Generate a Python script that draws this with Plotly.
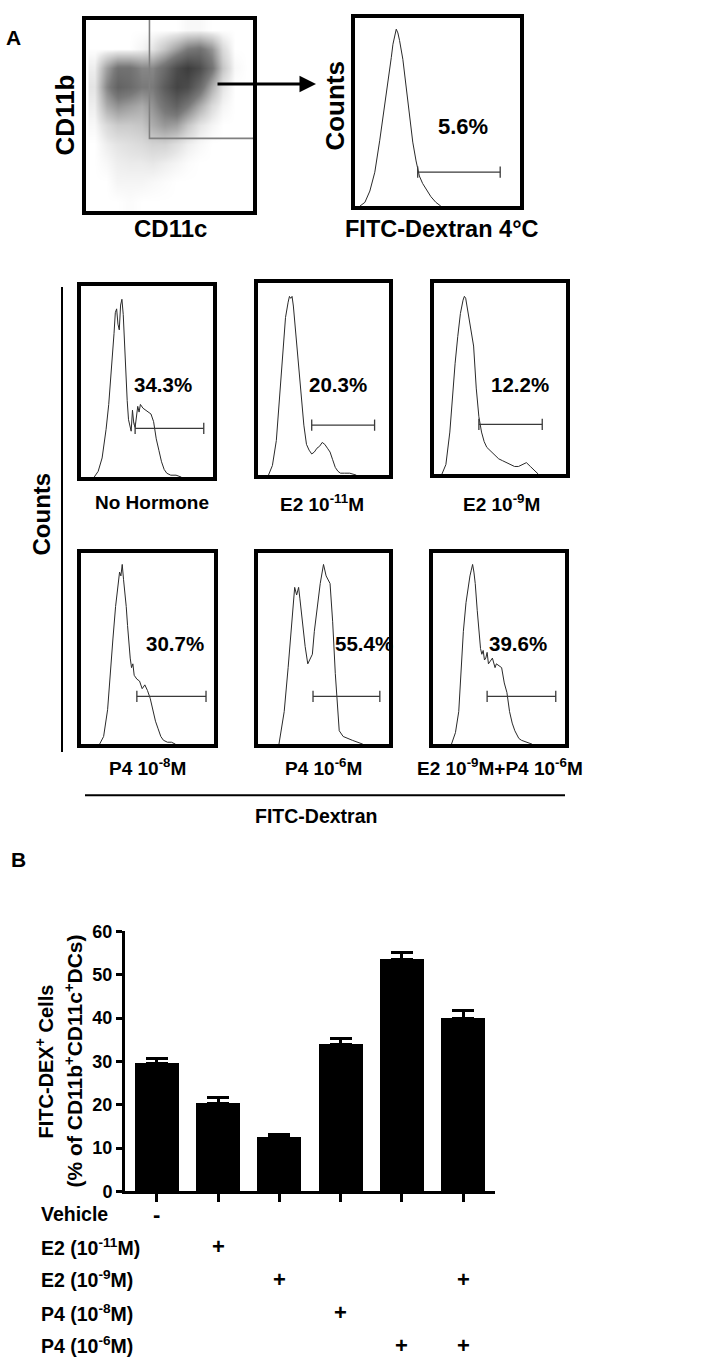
import plotly.graph_objects as go

W, H = 714, 1370

# ---------------- data ----------------
# dot-plot density (CD11c vs CD11b), grid centres in % of the box
scatter_x = [5, 12, 19, 26, 33, 40, 47, 54, 61, 68, 75, 82, 89, 96]
scatter_y = [5, 15, 25, 35, 45, 55, 65, 75, 85, 95]
scatter_density = [
    [0, 0, 0, 0.01, 0, 0, 0, 0, 0, 0, 0, 0, 0, 0],
    [0, 0, 0.03, 0.03, 0.03, 0.02, 0.01, 0, 0, 0, 0, 0, 0, 0],
    [0, 0.02, 0.05, 0.06, 0.06, 0.07, 0.05, 0.03, 0.01, 0, 0, 0, 0, 0],
    [0, 0.05, 0.08, 0.10, 0.12, 0.15, 0.15, 0.10, 0.05, 0.02, 0, 0, 0, 0],
    [0.02, 0.12, 0.18, 0.18, 0.20, 0.30, 0.38, 0.35, 0.20, 0.08, 0.03, 0, 0, 0],
    [0.05, 0.30, 0.40, 0.35, 0.30, 0.40, 0.55, 0.65, 0.50, 0.30, 0.12, 0.03, 0, 0],
    [0.08, 0.45, 0.65, 0.60, 0.50, 0.50, 0.70, 0.85, 0.80, 0.60, 0.30, 0.08, 0, 0],
    [0.05, 0.35, 0.55, 0.55, 0.45, 0.45, 0.60, 0.80, 0.90, 0.80, 0.55, 0.20, 0.02, 0],
    [0, 0, 0, 0, 0.03, 0.08, 0.20, 0.35, 0.50, 0.55, 0.40, 0.12, 0, 0],
    [0, 0, 0, 0, 0, 0, 0, 0, 0.02, 0.02, 0, 0, 0, 0],
]
scatter_gate_x = [38, 38, 100]
scatter_gate_y = [100, 38, 38]

# histograms (x: % of box width, y: % of box height)
hist_4c_x = [3, 6, 9, 12, 15, 18, 20, 22, 23, 24, 25, 26, 27, 29, 31, 33, 35, 37, 39, 41, 43, 46, 49, 52]
hist_4c_y = [0, 2, 8, 18, 35, 53, 66, 79, 86, 91, 94, 92, 88, 78, 64, 48, 34, 24, 16, 12, 9, 5, 2, 0]

hist_none_x = [10, 13, 16, 19, 21, 23, 25, 26, 27, 28, 29, 30, 31, 32, 33, 34, 35, 36, 37, 38, 39, 40,
               41, 42, 43, 44, 45, 47, 49, 51, 53, 55, 57, 59, 61, 63, 65, 68, 72, 76]
hist_none_y = [0, 3, 10, 25, 38, 55, 75, 86, 88, 80, 77, 90, 93, 85, 68, 52, 40, 30, 27, 24, 35, 28,
               26, 33, 37, 34, 38, 36, 35, 34, 33, 29, 20, 14, 8, 4, 2, 1, 1, 0]

hist_e2lo_x = [8, 11, 14, 17, 19, 21, 23, 24, 25, 26, 27, 29, 31, 33, 35, 37, 39, 41, 43, 45, 47, 49,
               51, 53, 55, 57, 59, 61, 63, 66, 70, 75]
hist_e2lo_y = [0, 5, 18, 45, 67, 82, 90, 93, 92, 93, 88, 72, 55, 40, 26, 16, 13, 11, 12, 14, 15, 17,
               16, 14, 12, 8, 4, 2, 1, 1, 1, 0]

hist_e2hi_x = [6, 9, 12, 14, 16, 18, 20, 22, 23, 24, 25, 26, 28, 30, 32, 34, 36, 38, 40, 43, 46, 49,
               52, 55, 58, 61, 64, 67, 70, 73, 76, 79]
hist_e2hi_y = [0, 5, 22, 42, 58, 72, 84, 91, 93, 92, 88, 84, 76, 67, 45, 30, 22, 17, 14, 12, 10, 8,
               7, 6, 5, 4, 4, 5, 6, 4, 2, 0]

hist_p4lo_x = [14, 17, 20, 22, 24, 26, 28, 29, 30, 31, 32, 33, 34, 35, 36, 37, 38, 39, 40, 42, 44, 46,
               48, 50, 52, 54, 56, 58, 60, 62, 65, 68, 71]
hist_p4lo_y = [0, 4, 18, 38, 55, 72, 85, 90, 88, 94, 86, 80, 72, 62, 52, 45, 40, 42, 36, 34, 33, 29,
               31, 28, 24, 18, 12, 8, 4, 2, 1, 1, 0]

hist_p4hi_x = [16, 20, 23, 26, 28, 29.5, 31, 32, 34, 36, 38, 40, 41.5, 43, 45, 47.5, 50, 52, 55, 57,
               59, 61, 62, 65, 68, 72, 80]
hist_p4hi_y = [0, 17, 40, 64, 82, 78, 82, 76, 62, 51, 42, 45, 47, 59, 70, 84, 94, 88, 84, 64,
               37, 15, 7, 4, 3, 2, 0]

hist_comb_x = [14, 17, 19.5, 21, 23, 25, 27, 28, 29, 30, 31, 32, 33.5, 35, 36, 37, 38, 39, 40, 41, 42,
               43, 45, 47, 48, 50, 52, 54, 56, 58, 60, 62, 65, 67, 71, 75]
hist_comb_y = [0, 6, 17, 35, 59, 74, 84, 88, 91, 94, 90, 84, 70, 59, 50, 47, 49, 44, 45, 48, 42,
               43, 45, 40, 42, 41, 40, 32, 27, 17, 11, 7, 3, 2, 1, 0]

# marker gates: [x start, x end, y]
gate_4c = [38, 88, 18]
gate_none = [41, 93, 25.5]
gate_e2lo = [41, 89, 26]
gate_e2hi = [34, 82, 26]
gate_p4lo = [42, 94, 25]
gate_p4hi = [42, 93, 25]
gate_comb = [41, 93, 25]

pct_labels = ["5.6%", "34.3%", "20.3%", "12.2%", "30.7%", "55.4%", "39.6%"]

# panel B bar chart
bar_groups = [0, 1, 2, 3, 4, 5]
bar_values = [29.6, 20.3, 12.5, 34.0, 53.6, 39.9]
bar_errors = [1.1, 1.3, 0.6, 1.3, 1.6, 1.9]
y_ticks = [0, 10, 20, 30, 40, 50, 60]

treat_labels = ["Vehicle", "E2 (10<sup>-11</sup>M)", "E2 (10<sup>-9</sup>M)",
                "P4 (10<sup>-8</sup>M)", "P4 (10<sup>-6</sup>M)"]
treat_marks = [
    ["-", "", "", "", "", ""],
    ["", "+", "", "", "", ""],
    ["", "", "+", "", "", "+"],
    ["", "", "", "+", "", ""],
    ["", "", "", "", "+", "+"],
]

# ---------------- layout helpers ----------------
SANS = "Liberation Sans, Arial, sans-serif"


def px(xp):
    return xp / W


def py(yp):
    return 1 - yp / H


fig = go.Figure()

# box panels: (axis index, x-range px, y-range px)
panels = [
    (1, (86, 253), (10, 204)),    # dot plot
    (2, (355, 520), (8, 199)),    # 4 C
    (3, (81, 213), (280, 474)),
    (4, (258, 389), (277, 472)),
    (5, (434, 566), (277, 471)),
    (6, (81, 214), (551, 745)),
    (7, (258, 389), (551, 745)),
    (8, (433, 565), (551, 745)),
]
layout_axes = {}
for i, xr, yr in panels:
    sx = "" if i == 1 else str(i)
    layout_axes["xaxis" + sx] = dict(
        domain=[px(xr[0]), px(xr[1])], anchor="y" + sx, range=[0, 100],
        showline=True, mirror=True, linewidth=4, linecolor="black",
        showticklabels=False, ticks="", showgrid=False, zeroline=False)
    layout_axes["yaxis" + sx] = dict(
        domain=[py(yr[1]), py(yr[0])], anchor="x" + sx, range=[0, 100],
        showline=True, mirror=True, linewidth=4, linecolor="black",
        showticklabels=False, ticks="", showgrid=False, zeroline=False)

# dot plot density
fig.add_trace(go.Heatmap(x=scatter_x, y=scatter_y, z=scatter_density, zmin=0, zmax=1,
                         colorscale=[[0, "white"], [0.08, "#e4e4e4"], [0.5, "#7a7a7a"], [1, "#2e2e2e"]],
                         zsmooth="best", showscale=False, xaxis="x", yaxis="y", hoverinfo="skip"))
fig.add_trace(go.Scatter(x=scatter_gate_x, y=scatter_gate_y, mode="lines",
                         line=dict(color="#808080", width=1.6), xaxis="x", yaxis="y",
                         hoverinfo="skip"))

hists = [
    (2, hist_4c_x, hist_4c_y, gate_4c),
    (3, hist_none_x, hist_none_y, gate_none),
    (4, hist_e2lo_x, hist_e2lo_y, gate_e2lo),
    (5, hist_e2hi_x, hist_e2hi_y, gate_e2hi),
    (6, hist_p4lo_x, hist_p4lo_y, gate_p4lo),
    (7, hist_p4hi_x, hist_p4hi_y, gate_p4hi),
    (8, hist_comb_x, hist_comb_y, gate_comb),
]
for i, hx, hy, g in hists:
    fig.add_trace(go.Scatter(x=hx, y=hy, mode="lines", line=dict(color="#2a2a2a", width=1),
                             xaxis="x%d" % i, yaxis="y%d" % i, hoverinfo="skip"))
    fig.add_trace(go.Scatter(x=[g[0], g[1]], y=[g[2], g[2]], mode="lines+markers",
                             line=dict(color="#3a3a3a", width=1.3),
                             marker=dict(symbol="line-ns-open", size=8,
                                         line=dict(color="#3a3a3a", width=1.3)),
                             xaxis="x%d" % i, yaxis="y%d" % i, hoverinfo="skip"))

# bar chart
fig.add_trace(go.Bar(x=bar_groups, y=bar_values, width=0.72, marker=dict(color="black", line=dict(width=0)),
                     error_y=dict(type="data", array=bar_errors, arrayminus=[0] * len(bar_errors),
                                  symmetric=False, color="black", thickness=3, width=11),
                     xaxis="x9", yaxis="y9", hoverinfo="skip"))
layout_axes["xaxis9"] = dict(domain=[px(125), px(495)], anchor="y9", range=[-0.52, 5.52],
                             tickvals=bar_groups, showticklabels=False, ticks="outside",
                             ticklen=8, tickwidth=3, tickcolor="black",
                             showline=True, linewidth=3, linecolor="black",
                             showgrid=False, zeroline=False)
layout_axes["yaxis9"] = dict(domain=[py(1199), py(935)], anchor="x9", range=[0, 60],
                             tickvals=y_ticks, ticks="outside", ticklen=6, tickwidth=3,
                             tickcolor="black", showline=True, linewidth=3, linecolor="black",
                             showgrid=False, zeroline=False,
                             tickfont=dict(family=SANS, size=18, color="black", weight="bold"))

# ---------------- annotations ----------------
ann = []


def text(t, x, y, size, angle=0, xanchor="center"):
    ann.append(dict(text=t, x=px(x), y=py(y), xref="paper", yref="paper",
                    showarrow=False, textangle=angle, xanchor=xanchor, yanchor="middle",
                    font=dict(family=SANS, size=size, color="black", weight="bold")))


text("A", 13, 28, 21)
text("CD11b", 65, 107, 26, -90)
text("CD11c", 170, 222, 24)
text("Counts", 335, 97, 26, -90)
text("FITC-Dextran 4°C", 442, 222, 23.5)

pct_pos = [(463, 118, 22), (163, 380, 20.5), (338, 380, 20.5), (520, 380, 20.5),
           (175, 643, 20.5), (364, 643, 20.5), (518, 643, 20.5)]
for lab, (x, y, s) in zip(pct_labels, pct_pos):
    text(lab, x, y, s)

text("No Hormone", 152, 500, 19)
text("E2 10<sup>-11</sup>M", 322, 500, 19)
text("E2 10<sup>-9</sup>M", 502, 500, 19)
text("P4 10<sup>-8</sup>M", 147, 768, 19)
text("P4 10<sup>-6</sup>M", 323, 768, 19)
text("E2 10<sup>-9</sup>M+P4 10<sup>-6</sup>M", 500, 768, 19)
text("FITC-Dextran", 316, 818, 19.5)
text("Counts", 42, 512, 24, -90)
text("B", 18, 862, 21)

text("FITC-DEX<sup>+</sup> Cells", 44, 1067, 20, -90)
text("(% of CD11b<sup>+</sup>CD11c<sup>+</sup>DCs)", 74, 1067, 21, -90)

row_y = [1222, 1255, 1288, 1322, 1355]
for lab, yy, marks in zip(treat_labels, row_y, treat_marks):
    text(lab, 39, yy, 19.5, 0, "left")
    for gx, m in zip(bar_groups, marks):
        if m:
            ann.append(dict(text=m, x=gx, y=py(yy), xref="x9", yref="paper",
                            showarrow=False, xanchor="center", yanchor="middle",
                            font=dict(family=SANS, size=22, color="black", weight="bold")))

# arrow from the gate to the histogram
ann.append(dict(x=px(316), y=py(75), ax=-100, ay=0, xref="paper", yref="paper",
                axref="pixel", ayref="pixel", text="", showarrow=True, arrowhead=2,
                arrowsize=1.1, arrowwidth=3, arrowcolor="black"))

shapes = [
    dict(type="line", xref="paper", yref="paper", x0=px(62), x1=px(62), y0=py(281), y1=py(753),
         line=dict(color="black", width=2)),
    dict(type="line", xref="paper", yref="paper", x0=px(85), x1=px(565), y0=py(797), y1=py(797),
         line=dict(color="black", width=2)),
]

fig.update_layout(width=W, height=H, margin=dict(l=0, r=0, t=0, b=0),
                  paper_bgcolor="white", plot_bgcolor="white", showlegend=False,
                  annotations=ann, shapes=shapes, bargap=0, **layout_axes)

fig.write_html("out.html", config={"displayModeBar": False},
               post_script="document.body.style.margin='0';document.body.style.overflow='hidden';")
